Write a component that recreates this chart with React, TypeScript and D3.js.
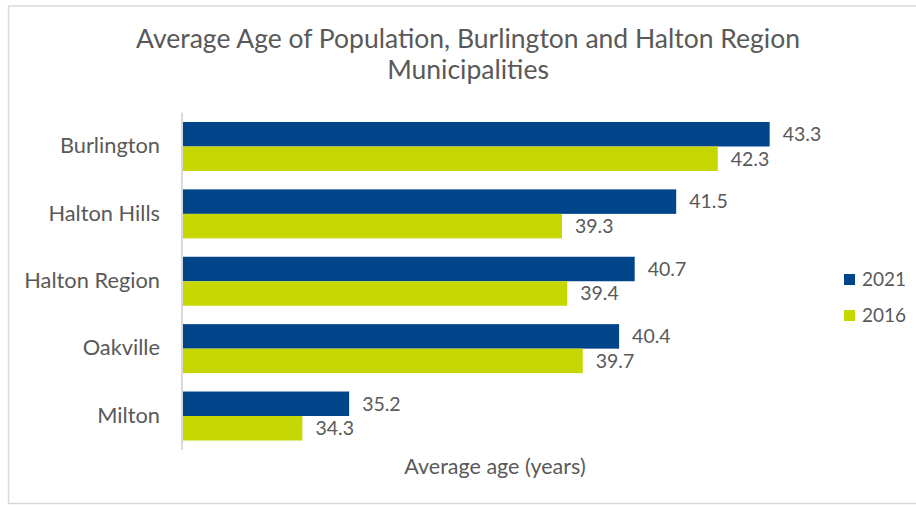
import React from "react";
import * as d3 from "d3";

const categories = ["Burlington", "Halton Hills", "Halton Region", "Oakville", "Milton"];
const series2021 = [43.3, 41.5, 40.7, 40.4, 35.2];
const series2016 = [42.3, 39.3, 39.4, 39.7, 34.3];
const seriesNames = ["2021", "2016"];
const colors = ["#00458A", "#C5D600"];
const titleLines = ["Average Age of Population, Burlington and Halton Region", "Municipalities"];
const axisTitle = "Average age (years)";
const xDomain = [32, 44];

const W = 916;
const H = 505;
const FONT = "Lato, 'Open Sans', sans-serif";
const GRAY = "#595959";

export default function App() {
  const x = d3.scaleLinear().domain(xDomain).range([183, 806]);
  const y = d3
    .scaleBand<string>()
    .domain(categories)
    .range([112.8, 449.7])
    .paddingInner(0.273)
    .paddingOuter(0.1365);
  const bw = y.bandwidth() / 2;
  const all = [series2021, series2016];

  return (
    <svg
      width={W}
      height={H}
      style={{ position: "absolute", left: 0, top: 0, background: "#fff" }}
      fontFamily={FONT}
    >
      <rect x={8.5} y={6} width={920} height={497.5} fill="#fff" stroke="#d9d9d9" strokeWidth={1.5} />
      {titleLines.map((t, i) => (
        <text key={i} x={468} y={48 + i * 31} textAnchor="middle" fontSize={26.5} fill={GRAY}>
          {t}
        </text>
      ))}
      {all.map((s, si) =>
        s.map((v, i) => {
          const yy = (y(categories[i]) as number) + si * bw;
          return (
            <g key={`${si}-${i}`}>
              <rect x={x(xDomain[0])} y={yy} width={x(v) - x(xDomain[0])} height={bw} fill={colors[si]} />
              <text x={x(v) + 13} y={yy + bw / 2} dy="0.35em" fontSize={19.5} fill={GRAY}>
                {v.toFixed(1)}
              </text>
            </g>
          );
        })
      )}
      <line x1={182} x2={182} y1={y.range()[0]} y2={y.range()[1]} stroke="#d9d9d9" strokeWidth={2} />
      {categories.map((c) => (
        <text
          key={c}
          x={160}
          y={(y(c) as number) + y.bandwidth() / 2 - 1}
          dy="0.35em"
          textAnchor="end"
          fontSize={21.8}
          fill={GRAY}
        >
          {c}
        </text>
      ))}
      <text x={495} y={466} dy="0.35em" textAnchor="middle" fontSize={21.5} fill={GRAY}>
        {axisTitle}
      </text>
      {seriesNames.map((n, i) => (
        <g key={n}>
          <rect x={844} y={274 + i * 36} width={11} height={11} fill={colors[i]} />
          <text x={862} y={279.5 + i * 36} dy="0.35em" fontSize={19} fill={GRAY}>
            {n}
          </text>
        </g>
      ))}
    </svg>
  );
}
